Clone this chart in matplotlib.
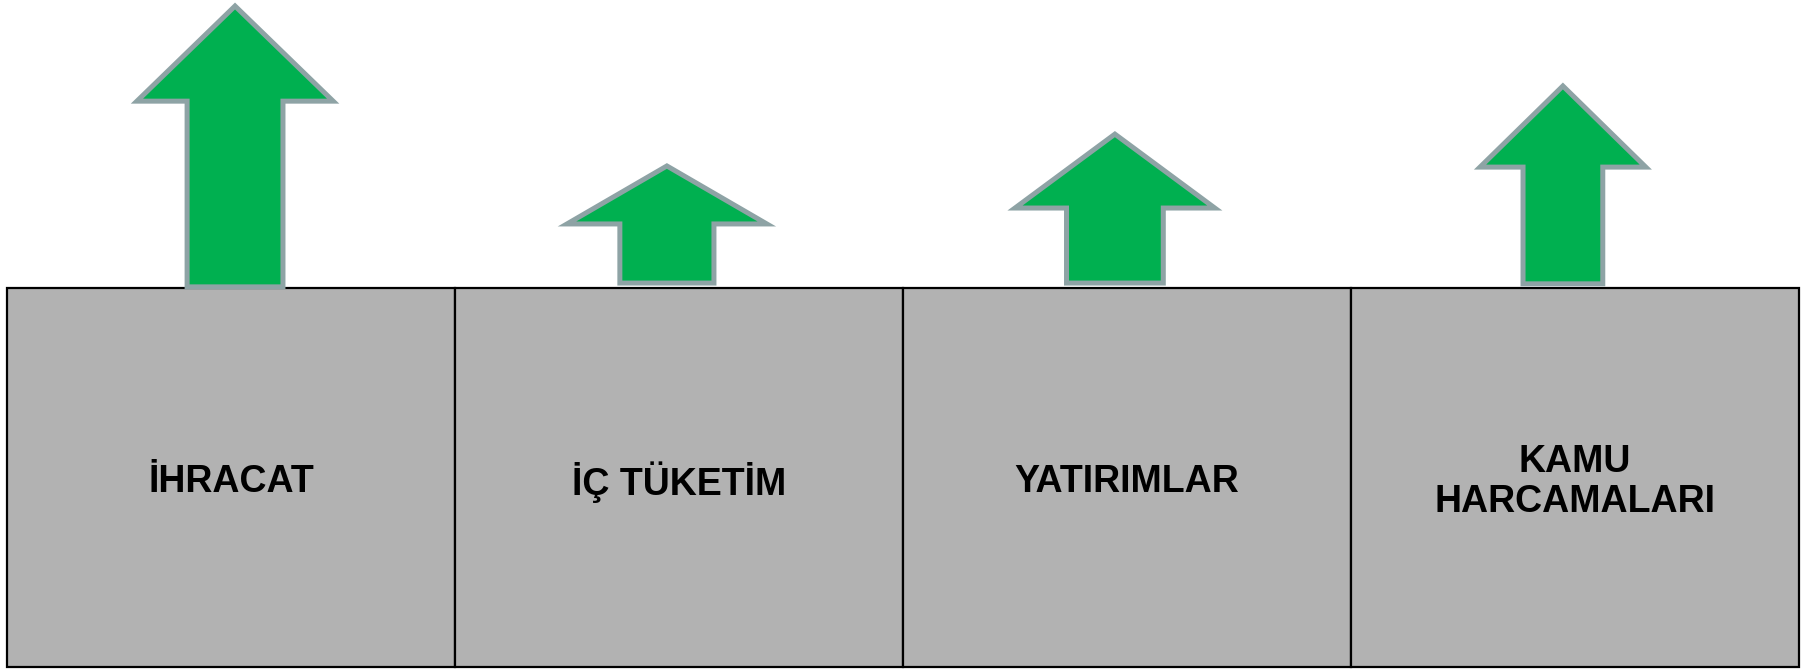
import matplotlib.pyplot as plt
from matplotlib.patches import Rectangle, Polygon

# categories and arrow data (heights measured in box-heights above the box top)
categories = ['İHRACAT', 'İÇ TÜKETİM', 'YATIRIMLAR', 'KAMU\nHARCAMALARI']
arrow_top = [0.744, 0.322, 0.406, 0.533]
arrow_head_base = [0.493, 0.169, 0.211, 0.319]
arrow_bottom = [0.003, 0.013, 0.013, 0.011]

# arrow shape styling (box-width units)
arrow_offset = [0.009, -0.027, -0.027, -0.027]
head_half = [0.219, 0.223, 0.223, 0.185]
shaft_half = [0.107, 0.105, 0.108, 0.089]

plt.rcParams['font.family'] = ['Liberation Sans', 'DejaVu Sans']

fig = plt.figure(figsize=(18.06, 6.69), dpi=100)
ax = fig.add_axes([0, 0, 1, 1])
ax.set_xlim(-7 / 448, 4 + 7 / 448)
ax.set_ylim(-1 - 2 / 379, 288 / 379)
ax.axis('off')

for i, label in enumerate(categories):
    ax.add_patch(Rectangle((i, -1), 1, 1, facecolor='#b2b2b2',
                           edgecolor='black', linewidth=1.6, zorder=1))
    ax.text(i + 0.5, -0.512, label, ha='center', va='center', fontsize=27,
            fontweight='bold', linespacing=1.15, zorder=3)

for i in range(len(categories)):
    cx = i + 0.5 + arrow_offset[i]
    pts = [
        (cx - shaft_half[i], arrow_bottom[i]),
        (cx - shaft_half[i], arrow_head_base[i]),
        (cx - head_half[i], arrow_head_base[i]),
        (cx, arrow_top[i]),
        (cx + head_half[i], arrow_head_base[i]),
        (cx + shaft_half[i], arrow_head_base[i]),
        (cx + shaft_half[i], arrow_bottom[i]),
    ]
    ax.add_patch(Polygon(pts, closed=True, facecolor='#00b050', edgecolor='#8ea3a5',
                         linewidth=3.6, joinstyle='miter', zorder=2))

fig.savefig('out.png', dpi=100)
